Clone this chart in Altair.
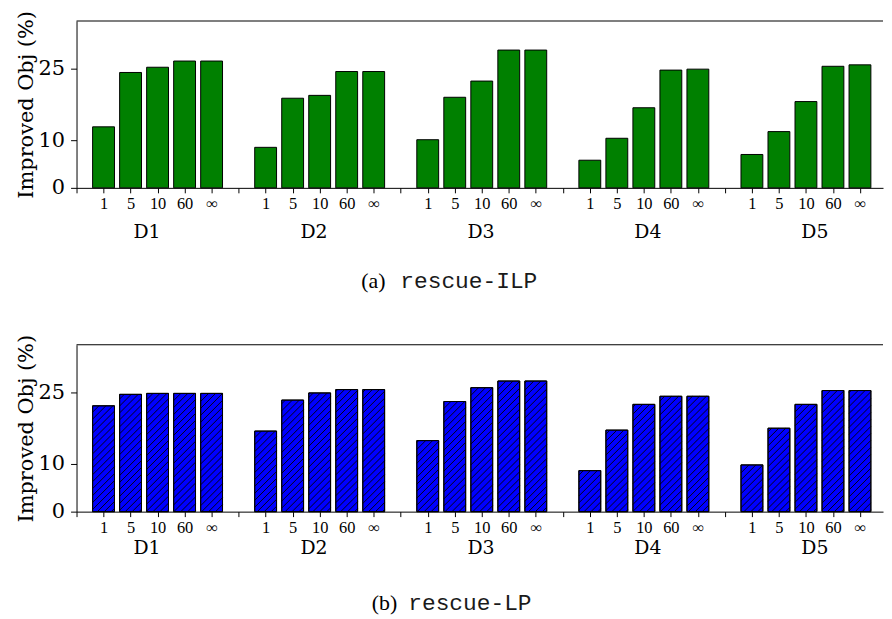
import math
import altair as alt
import pandas as pd

# ---------------- data ----------------
groups = ["D1", "D2", "D3", "D4", "D5"]
time_limits = ["1", "5", "10", "60", "∞"]

ilp_D1 = [12.8, 24.2, 25.3, 26.6, 26.6]
ilp_D2 = [8.5, 18.8, 19.4, 24.4, 24.4]
ilp_D3 = [10.1, 19.0, 22.4, 28.9, 28.9]
ilp_D4 = [5.8, 10.4, 16.8, 24.7, 24.9]
ilp_D5 = [7.0, 11.8, 18.1, 25.5, 25.8]

lp_D1 = [22.2, 24.6, 24.8, 24.8, 24.8]
lp_D2 = [16.9, 23.4, 24.9, 25.6, 25.6]
lp_D3 = [14.9, 23.1, 26.0, 27.4, 27.4]
lp_D4 = [8.6, 17.1, 22.5, 24.2, 24.2]
lp_D5 = [9.8, 17.5, 22.5, 25.4, 25.4]

y_ticks = [0, 10, 25]
Y_MAX = 35

ilp_values = [ilp_D1, ilp_D2, ilp_D3, ilp_D4, ilp_D5]
lp_values = [lp_D1, lp_D2, lp_D3, lp_D4, lp_D5]

# ---------------- layout ----------------
SLOT_PX = 27.2          # pixels per bar slot
UNIT_PX = 4.8           # pixels per y unit
W = 812
H = int(round(Y_MAX * UNIT_PX))
X_MAX = W / SLOT_PX
BAR_HALF = 11.0 / SLOT_PX
HATCH_D = 7.0
FONT = "DejaVu Serif"
TICK_FONT = "Liberation Serif"
# group-label placement (in slot units): first label and spacing
GLABEL_START = 2.61
GLABEL_STEP = 6.18


def bar_table(values):
    rows = []
    for g, (name, vals) in enumerate(zip(groups, values)):
        for i, (t, v) in enumerate(zip(time_limits, vals)):
            slot = g * 6 + i + 1
            rows.append({"group": name, "limit": t, "value": v,
                         "x0": slot - BAR_HALF, "x1": slot + BAR_HALF})
    return pd.DataFrame(rows)


def hatch_table(df):
    segs = []
    for _, r in df.iterrows():
        X0 = r["x0"] * SLOT_PX
        X1 = r["x1"] * SLOT_PX
        Ht = r["value"] * UNIT_PX
        n0 = math.ceil((X0 - Ht) / HATCH_D)
        n1 = math.floor(X1 / HATCH_D)
        for n in range(n0, n1 + 1):
            c = n * HATCH_D
            ylo = max(0.0, X0 - c)
            yhi = min(Ht, X1 - c)
            if yhi - ylo > 0.3:
                segs.append({"hx": (ylo + c) / SLOT_PX, "hy": ylo / UNIT_PX,
                             "hx2": (yhi + c) / SLOT_PX, "hy2": yhi / UNIT_PX})
    return pd.DataFrame(segs)


label_arr = "[''," + ",".join("'" + t + "'" for t in time_limits) + "]"
x_scale = alt.Scale(domain=[0, X_MAX], nice=False, zero=False)
y_scale = alt.Scale(domain=[0, Y_MAX], nice=False)

x_axis = alt.Axis(values=list(range(30)), labelExpr=label_arr + "[datum.value % 6]",
                  title="", grid=False, tickSize=5, labelFontSize=16.5, labelFont=TICK_FONT,
                  labelColor="black", tickColor="black", domainColor="black",
                  labelFlush=False, labelOverlap=False, labelBound=False,
                  labelPadding=3, labelAngle=0, titlePadding=0)
y_axis = alt.Axis(values=y_ticks, title="Improved Obj (%)", grid=False, tickSize=6,
                  labelFontSize=21, labelFont=FONT, titleFont=FONT, titleFontSize=21,
                  titleFontWeight="normal", labelColor="black", titleColor="black",
                  tickColor="black", domainColor="black", labelPadding=6, titlePadding=2)


def X(field):
    return alt.X(field, type="quantitative", scale=x_scale, axis=x_axis)


def Y(field):
    return alt.Y(field, type="quantitative", scale=y_scale, axis=y_axis)


def panel(values, color, hatched, tag, name, d_offset, cap_y, a_right, b_left):
    df = bar_table(values)
    base = alt.Chart(df)
    bars = base.mark_bar(color=color, stroke="black", strokeWidth=1).encode(
        x=X("x0"), x2="x1", y=Y("value"), y2=alt.datum(0))
    layers = [bars]
    if hatched:
        hd = hatch_table(df)
        hatch = alt.Chart(hd).mark_rule(color="black", strokeWidth=0.9).encode(
            x=X("hx"), x2="hx2", y=Y("hy"), y2="hy2")
        outline = base.mark_bar(fillOpacity=0, stroke="black", strokeWidth=1).encode(
            x=X("x0"), x2="x1", y=Y("value"), y2=alt.datum(0))
        layers += [hatch, outline]
    top_line = alt.Chart(pd.DataFrame({"t": [Y_MAX]})).mark_rule(
        color="black", strokeWidth=1.2).encode(y=Y("t"), x=alt.value(0), x2=alt.value(W))
    gdf = pd.DataFrame({"g": groups,
                        "c": [GLABEL_START + k * GLABEL_STEP for k in range(len(groups))]})
    glabels = alt.Chart(gdf).mark_text(font=FONT, fontSize=19, baseline="middle",
                                       color="black").encode(
        x=X("c"), y=alt.value(H + d_offset), text="g:N")
    cap = pd.DataFrame({"a": [tag], "b": [name]})
    cap_a = alt.Chart(cap).mark_text(font="Liberation Serif", fontSize=22, align="right",
                                     baseline="middle", color="black").encode(
        x=alt.value(a_right), y=alt.value(cap_y), text="a:N")
    cap_b = alt.Chart(cap).mark_text(font="Liberation Mono", fontSize=23, align="left",
                                     baseline="middle", color="#1a1a1a").encode(
        x=alt.value(b_left), y=alt.value(cap_y), text="b:N")
    layers += [top_line, glabels, cap_a, cap_b]
    return alt.layer(*layers).properties(width=W, height=H)


top = panel(ilp_values, "#008000", False, "(a)", "rescue-ILP", 44, 262, 311, 326)
bottom = panel(lp_values, "#0000ff", True, "(b)", "rescue-LP", 37, 260, 323, 334)

chart = alt.vconcat(top, bottom, spacing=41).properties(
    padding={"left": 7, "top": 0, "right": 0, "bottom": 0},
    background="white",
).configure_view(strokeWidth=0)

chart.save("out.html", embed_options={"renderer": "svg", "actions": False})
